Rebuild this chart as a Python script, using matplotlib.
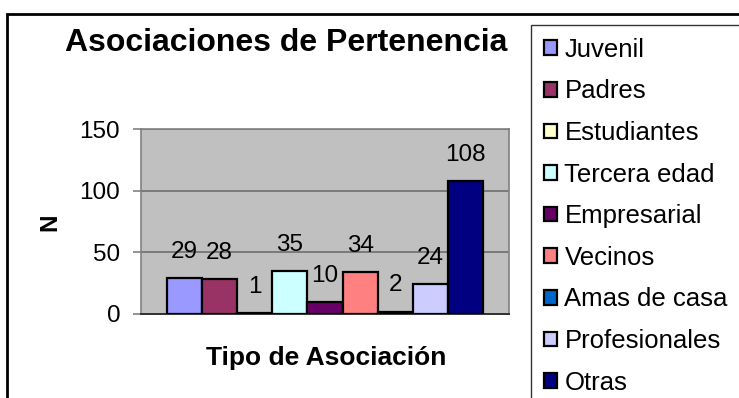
import matplotlib
matplotlib.use('Agg')
import matplotlib.pyplot as plt
from matplotlib.patches import Rectangle

categorias = ['Juvenil', 'Padres', 'Estudiantes', 'Tercera edad', 'Empresarial',
              'Vecinos', 'Amas de casa', 'Profesionales', 'Otras']
valores = [29, 28, 1, 35, 10, 34, 2, 24, 108]
colores = ['#9999FF', '#993366', '#FFFFCC', '#CCFFFF', '#660066',
           '#FF8080', '#0066CC', '#CCCCFF', '#000080']
marcas_y = [0, 50, 100, 150]

plt.rcParams['font.family'] = ['Liberation Sans', 'DejaVu Sans']

W, H = 739, 398
fig = plt.figure(figsize=(W / 100, H / 100), dpi=100)
fig.patch.set_facecolor('white')

# marco exterior del grafico
fig.patches.append(Rectangle((7 / W, -0.2), 1.2, 1.2 - 14 / H, transform=fig.transFigure,
                             fill=False, edgecolor='black', linewidth=2, zorder=0))

ax = fig.add_axes([141 / W, 1 - 314 / H, 368 / W, 185 / H])
ax.set_facecolor('#C0C0C0')

x = list(range(len(valores)))
barras = ax.bar(x, valores, width=1.0, color=colores, edgecolor='black',
                linewidth=1.6, zorder=3)

for xi, v in zip(x, valores):
    ax.annotate(str(v), (xi, v), xytext=(0, 14.5), textcoords='offset points',
                ha='center', va='baseline', fontsize=17.5, color='black', zorder=4)

ax.set_xlim(-0.5 - 0.74, len(valores) - 0.5 + 0.74)
ax.set_ylim(0, 150)
ax.set_yticks(marcas_y)
ax.set_xticks([])
ax.yaxis.grid(True, color='#6e6e6e', linewidth=1.2, zorder=1)
ax.tick_params(axis='y', length=6, width=1.2, color='#808080', pad=9,
               labelsize=17.5)
for lado in ['top', 'right', 'left']:
    ax.spines[lado].set_color('#808080')
    ax.spines[lado].set_linewidth(1.2)
ax.spines['bottom'].set_color('#303030')
ax.spines['bottom'].set_linewidth(1.4)

fig.text(286 / W, 1 - 43 / H, 'Asociaciones de Pertenencia', ha='center', va='center',
         fontsize=23, fontweight='bold')
fig.text(50 / W, 1 - 222 / H, 'N', ha='center', va='center', rotation=90,
         fontsize=17.5, fontweight='bold')
fig.text(326 / W, 1 - 358 / H, 'Tipo de Asociación', ha='center', va='center',
         fontsize=19, fontweight='bold')

leg = fig.legend(handles=list(barras), labels=categorias, loc='upper left',
                 bbox_to_anchor=(531 / W, 1 - 25 / H), bbox_transform=fig.transFigure,
                 fontsize=18.5, frameon=True, fancybox=False, shadow=False,
                 handlelength=0.5, handleheight=0.5, handletextpad=0.3,
                 labelspacing=0.685, borderpad=0.5, borderaxespad=0)
leg.get_frame().set_edgecolor('black')
leg.get_frame().set_linewidth(1.0)

fig.savefig('out.png', dpi=100)
